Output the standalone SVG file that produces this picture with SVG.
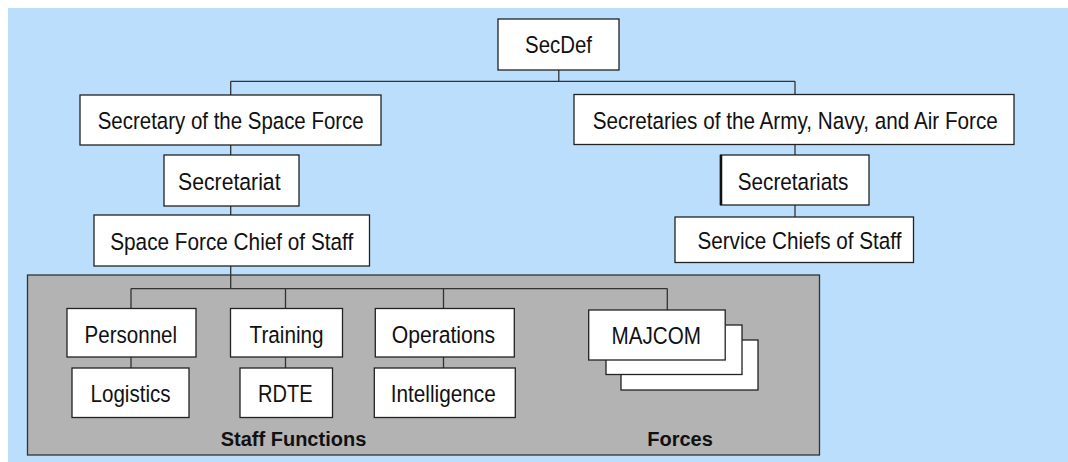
<svg xmlns="http://www.w3.org/2000/svg" width="1068" height="462" viewBox="0 0 1068 462">
<style>
.bg{fill:#BBDEFD}
.panel{fill:#B3B3B3;stroke:#333;stroke-width:1.3}
.box{fill:#fff;stroke:#222;stroke-width:1.3}
.lbl{font-family:"Liberation Sans",Arial,sans-serif;font-size:24.5px;fill:#111;text-anchor:middle}
.cap{font-family:"Liberation Sans",Arial,sans-serif;font-size:20px;font-weight:bold;fill:#111;text-anchor:middle}
.con{fill:none;stroke:#333;stroke-width:1.3}
</style>
<rect class="bg" x="8" y="8" width="1060" height="454"/>
<rect id="panel" class="panel" x="27.5" y="275" width="792" height="180"/>
<g id="connectors">
<path class="con" d="M558.8,70 V81.3 M230.7,81.3 H795 M230.7,81.3 V95 M795,81.3 V94.5 M230.7,145 V155 M230.7,206 V215 M230.7,266 V288.6 M795,144.5 V155 M795,205 V217 M131,288.6 H667.3 M131,288.6 V308.5 M285.5,288.6 V308.5 M443.5,288.6 V308.5 M667.3,288.6 V310 M131,357 V368 M285.5,357 V368 M443.5,357 V368"/>
</g>
<g id="secdef"><rect class="box" x="498" y="19" width="121" height="51"/><text class="lbl" transform="translate(558.5 53) scale(0.82 1)" textLength="81.7" lengthAdjust="spacingAndGlyphs">SecDef</text></g>
<g id="secsf"><rect class="box" x="80" y="95" width="301" height="50"/><text class="lbl" transform="translate(230.7 129) scale(0.82 1)" textLength="324.4" lengthAdjust="spacingAndGlyphs">Secretary of the Space Force</text></g>
<g id="secs"><rect class="box" x="574" y="94.5" width="440" height="50"/><text class="lbl" transform="translate(795.3 129) scale(0.82 1)" textLength="493.9" lengthAdjust="spacingAndGlyphs">Secretaries of the Army, Navy, and Air Force</text></g>
<g id="secretariat"><rect class="box" x="164" y="155" width="135" height="51"/><text class="lbl" transform="translate(229.3 190) scale(0.82 1)" textLength="125" lengthAdjust="spacingAndGlyphs">Secretariat</text></g>
<g id="secretariats"><rect class="box" x="720.5" y="155" width="148.5" height="50"/><line x1="721" y1="155" x2="721" y2="205" stroke="#111" stroke-width="2.5"/><text class="lbl" transform="translate(793 190) scale(0.82 1)" textLength="134.8" lengthAdjust="spacingAndGlyphs">Secretariats</text></g>
<g id="sfcos"><rect class="box" x="94" y="215" width="275.5" height="51"/><text class="lbl" transform="translate(231.7 250) scale(0.82 1)" textLength="296.3" lengthAdjust="spacingAndGlyphs">Space Force Chief of Staff</text></g>
<g id="scos"><rect class="box" x="675" y="217" width="238.5" height="45.5"/><text class="lbl" transform="translate(799.4 249) scale(0.82 1)" textLength="248.8" lengthAdjust="spacingAndGlyphs">Service Chiefs of Staff</text></g>
<g id="personnel"><rect class="box" x="67" y="308.5" width="129" height="48.5"/><text class="lbl" transform="translate(130.8 342.5) scale(0.82 1)" textLength="112.8" lengthAdjust="spacingAndGlyphs">Personnel</text></g>
<g id="logistics"><rect class="box" x="72" y="368" width="117" height="49.5"/><text class="lbl" transform="translate(130.5 402) scale(0.82 1)" textLength="97.6" lengthAdjust="spacingAndGlyphs">Logistics</text></g>
<g id="training"><rect class="box" x="230.5" y="308.5" width="112" height="48.5"/><text class="lbl" transform="translate(286.5 342.5) scale(0.82 1)" textLength="90.2" lengthAdjust="spacingAndGlyphs">Training</text></g>
<g id="rdte"><rect class="box" x="240" y="368" width="92.5" height="49.5"/><text class="lbl" transform="translate(285.3 402) scale(0.82 1)" textLength="66.5" lengthAdjust="spacingAndGlyphs">RDTE</text></g>
<g id="operations"><rect class="box" x="375.3" y="308.5" width="139" height="48.5"/><text class="lbl" transform="translate(443.4 342.5) scale(0.82 1)" textLength="126.2" lengthAdjust="spacingAndGlyphs">Operations</text></g>
<g id="intelligence"><rect class="box" x="374.3" y="368" width="141" height="49.5"/><text class="lbl" transform="translate(443.2 402) scale(0.82 1)" textLength="128" lengthAdjust="spacingAndGlyphs">Intelligence</text></g>
<g id="majcom">
<rect class="box" x="621" y="340" width="137" height="50"/>
<rect class="box" x="606" y="325" width="136" height="49.5"/>
<rect class="box" x="588.7" y="310" width="136.5" height="50"/>
<text class="lbl" transform="translate(656.2 344) scale(0.82 1)" textLength="109.1" lengthAdjust="spacingAndGlyphs">MAJCOM</text>
</g>
<text id="staff-functions" class="cap" x="293.5" y="446">Staff Functions</text>
<text id="forces" class="cap" x="680" y="445.5">Forces</text>
</svg>
